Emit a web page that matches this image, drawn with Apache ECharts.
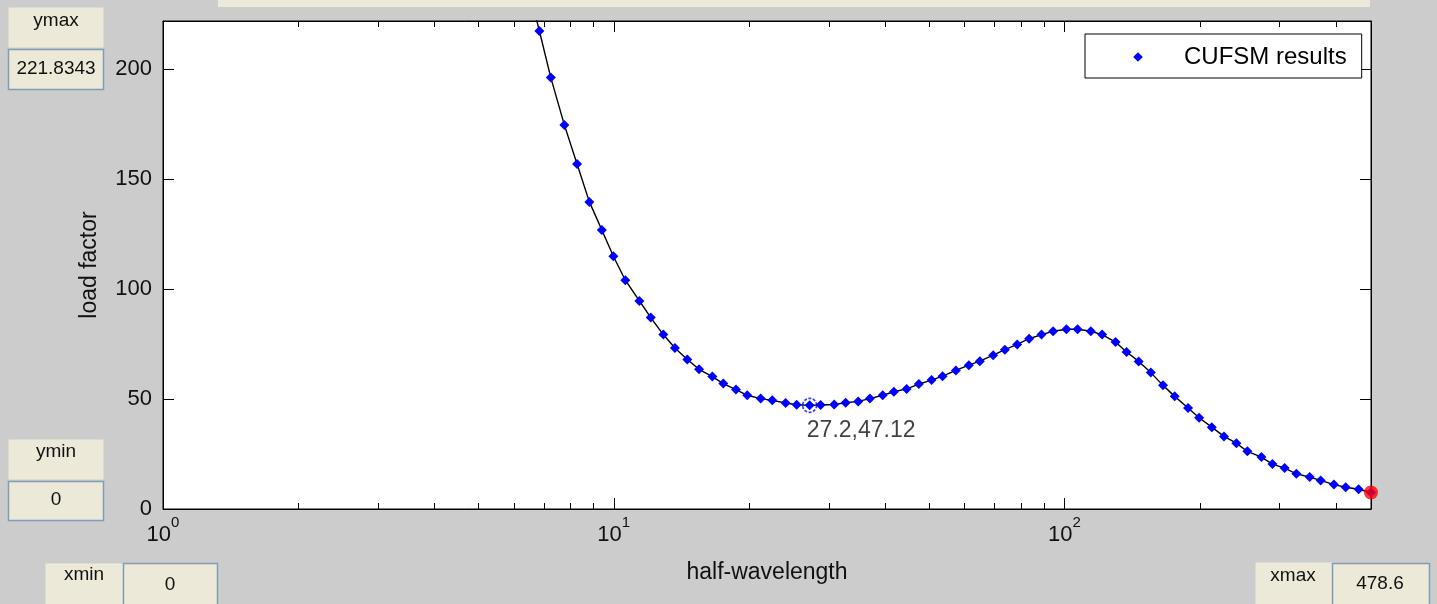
<!DOCTYPE html>
<html>
<head>
<meta charset="utf-8">
<title>CUFSM results</title>
<script src="https://cdn.jsdelivr.net/npm/echarts@6/dist/echarts.min.js"></script>
<style>
  html, body { margin: 0; padding: 0; background: #cccccc; }
  #chart { width: 1437px; height: 604px; }
</style>
</head>
<body>
<div id="chart"></div>
<script>
// Signature curve: half-wavelength vs. buckling load factor
const halfWavelength = [6.45, 6.84, 7.25, 7.77, 8.29, 8.83, 9.41, 9.98, 10.61, 11.40, 12.08, 12.88, 13.67, 14.56, 15.46, 16.55, 17.50, 18.67, 19.78, 21.18, 22.47, 24.06, 25.46, 27.2, 28.77, 30.84, 32.69, 34.86, 37.01, 39.50, 41.83, 44.64, 47.53, 50.71, 53.64, 57.41, 61.34, 64.89, 69.47, 73.74, 78.52, 83.46, 88.92, 94.34, 101.0, 106.9, 114.4, 121.2, 129.8, 137.3, 146.1, 155.4, 165.4, 175.6, 188.0, 198.9, 212.2, 225.9, 240.6, 254.5, 273.5, 289.3, 307.9, 326.9, 349.9, 370.1, 396.1, 420.5, 449.3, 478.6];
const loadFactor = [238, 217.3, 196.1, 174.6, 156.8, 139.6, 126.8, 114.9, 104.0, 94.6, 87.0, 79.3, 73.2, 68.0, 63.5, 60.2, 57.0, 54.3, 51.7, 50.2, 49.4, 48.2, 47.4, 47.12, 47.3, 47.5, 48.3, 48.9, 50.2, 51.7, 53.3, 54.6, 56.8, 58.6, 60.4, 63.0, 65.4, 67.2, 69.9, 72.4, 74.8, 77.4, 79.3, 80.8, 81.7, 81.7, 80.8, 79.3, 75.9, 71.4, 67.1, 62.0, 56.2, 51.2, 45.9, 41.5, 37.2, 33.0, 29.9, 26.2, 23.6, 20.4, 18.6, 16.0, 14.5, 13.0, 11.1, 9.9, 9.0, 7.5];

// Selected minimum and current end point
const selectedPoint = [27.2, 47.12];
const endPoint = [478.6, 7.5];

// Axis limits and ticks
const X_MIN = 1, X_MAX = 478.6;
const Y_MIN = 0, Y_MAX = 221.8343;
const xMajorTicks = [1, 10, 100];
const xMinorTicks = [2, 3, 4, 5, 6, 7, 8, 9, 20, 30, 40, 50, 60, 70, 80, 90, 200, 300, 400];
const yTicks = [0, 50, 100, 150, 200];

const FONT = 'Liberation Sans, Arial, Helvetica, sans-serif';
const UI_FONT = 'Liberation Sans, Arial, sans-serif';
const PANEL = '#ece9d8';
const EDIT_BORDER = '#7f9db9';

const curve = halfWavelength.map((x, i) => [x, loadFactor[i]]);

function logAxis(extra) {
  return Object.assign({
    type: 'log', logBase: 10, min: X_MIN, max: X_MAX,
    gridIndex: 0,
    splitLine: { show: false },
    axisLine: { show: false, onZero: false },
    axisLabel: { show: false },
    axisTick: { show: false },
    axisPointer: { show: false },
    silent: true
  }, extra);
}

function panelBox(x, y, w, h, withBorder) {
  return {
    type: 'rect', silent: true, z: 100,
    shape: { x: x + 0.5, y: y + 0.5, width: w, height: h },
    style: { fill: PANEL, stroke: withBorder ? EDIT_BORDER : null, lineWidth: withBorder ? 1.5 : 0 }
  };
}
function panelText(x, y, text) {
  return {
    type: 'text', silent: true, z: 101, x: x, y: y,
    style: { text: text, fill: '#111', font: '19px ' + UI_FONT, align: 'center', verticalAlign: 'middle' }
  };
}

const chart = echarts.init(document.getElementById('chart'), null, { renderer: 'canvas' });

chart.setOption({
  animation: false,
  backgroundColor: '#cccccc',
  grid: { left: 163, top: 21, width: 1208, height: 488, containLabel: false,
          show: true, backgroundColor: '#ffffff', borderColor: '#000', borderWidth: 1 },
  legend: {
    data: ['CUFSM results'],
    left: 1085, top: 34,
    padding: [11, 15, 9, 11],
    itemWidth: 82, itemHeight: 12,
    backgroundColor: '#ffffff', borderColor: '#000', borderWidth: 1,
    lineStyle: { opacity: 0 },
    textStyle: { fontSize: 24, color: '#000', fontFamily: FONT },
    selectedMode: false
  },
  xAxis: [
    logAxis({
      position: 'bottom',
      name: 'half-wavelength', nameLocation: 'middle', nameGap: 52,
      nameTextStyle: { fontSize: 23, color: '#111', fontFamily: FONT },
      axisLine: { show: true, onZero: false, lineStyle: { color: '#000', width: 1 } },
      axisTick: { show: true, inside: true, length: 11, customValues: xMajorTicks, lineStyle: { color: '#000' } },
      axisLabel: {
        show: true, margin: 15, customValues: xMajorTicks,
        formatter: v => '{b|10}{s|' + Math.round(Math.log10(v)) + '}',
        rich: {
          b: { fontSize: 22, lineHeight: 22, verticalAlign: 'bottom', color: '#111', fontFamily: FONT },
          s: { fontSize: 15, lineHeight: 15, padding: [0, 0, 16, 0], verticalAlign: 'bottom', color: '#111', fontFamily: FONT }
        }
      }
    }),
    logAxis({
      position: 'bottom',
      axisTick: { show: true, inside: true, length: 6, customValues: xMinorTicks, lineStyle: { color: '#000' } }
    }),
    logAxis({
      position: 'top',
      axisLine: { show: true, onZero: false, lineStyle: { color: '#000', width: 1 } },
      axisTick: { show: true, inside: true, length: 11, customValues: xMajorTicks, lineStyle: { color: '#000' } }
    }),
    logAxis({
      position: 'top',
      axisTick: { show: true, inside: true, length: 6, customValues: xMinorTicks, lineStyle: { color: '#000' } }
    })
  ],
  yAxis: [
    {
      type: 'value', min: Y_MIN, max: Y_MAX, interval: 50, position: 'left',
      name: 'load factor', nameLocation: 'middle', nameGap: 62, nameRotate: 90,
      nameTextStyle: { fontSize: 23, color: '#111', fontFamily: FONT },
      splitLine: { show: false },
      axisLine: { show: true, onZero: false, lineStyle: { color: '#000', width: 1 } },
      axisTick: { show: true, inside: true, length: 11, customValues: yTicks, lineStyle: { color: '#000' } },
      axisLabel: { show: true, margin: 11, customValues: yTicks, fontSize: 22, color: '#111', fontFamily: FONT },
      axisPointer: { show: false }
    },
    {
      type: 'value', min: Y_MIN, max: Y_MAX, interval: 50, position: 'right',
      splitLine: { show: false },
      axisLine: { show: true, onZero: false, lineStyle: { color: '#000', width: 1 } },
      axisTick: { show: true, inside: true, length: 11, customValues: yTicks, lineStyle: { color: '#000' } },
      axisLabel: { show: false },
      axisPointer: { show: false }
    }
  ],
  series: [
    {
      name: 'CUFSM results', type: 'line', xAxisIndex: 0, yAxisIndex: 0,
      data: curve, clip: true, smooth: false,
      symbol: 'diamond', symbolSize: [10, 10], showAllSymbol: true,
      itemStyle: { color: '#0000ff' },
      lineStyle: { color: '#000000', width: 1.4 },
      emphasis: { disabled: true }, z: 2
    },
    {
      name: 'selected', type: 'scatter', xAxisIndex: 0, yAxisIndex: 0,
      data: [selectedPoint], symbol: 'circle', symbolSize: 14,
      itemStyle: { color: 'rgba(0,0,0,0)', borderColor: '#0000ff', borderWidth: 1.6, borderType: [3, 1.5] },
      label: {
        show: true, position: [5, 22], align: 'left', verticalAlign: 'top',
        formatter: p => p.value[0] + ',' + p.value[1],
        fontSize: 23, color: '#111', fontFamily: FONT
      },
      emphasis: { disabled: true }, z: 3
    },
    {
      name: 'end', type: 'scatter', xAxisIndex: 0, yAxisIndex: 0,
      data: [endPoint], symbol: 'circle', symbolSize: 14, clip: false,
      itemStyle: { color: '#ff0000' },
      emphasis: { disabled: true }, z: 4
    }
  ],
  graphic: [
    // strip of the panel above the axes
    { type: 'rect', silent: true, z: 100, shape: { x: 218, y: -2, width: 1152, height: 9 }, style: { fill: PANEL } },
    panelBox(8, 7, 95, 40, false), panelText(56, 21, 'ymax'),
    panelBox(8, 49, 95, 40, true), panelText(56, 69, String(Y_MAX)),
    panelBox(8, 439, 95, 40, false), panelText(56, 452, 'ymin'),
    panelBox(8, 481, 95, 39, true), panelText(56, 500, String(Y_MIN)),
    panelBox(45, 563, 78, 45, false), panelText(84, 575, 'xmin'),
    panelBox(123, 563, 94, 45, true), panelText(170, 585, '0'),
    panelBox(1255, 562, 77, 45, false), panelText(1293, 576, 'xmax'),
    panelBox(1332, 563, 97, 45, true), panelText(1380, 584, String(X_MAX))
  ]
});
</script>
</body>
</html>
